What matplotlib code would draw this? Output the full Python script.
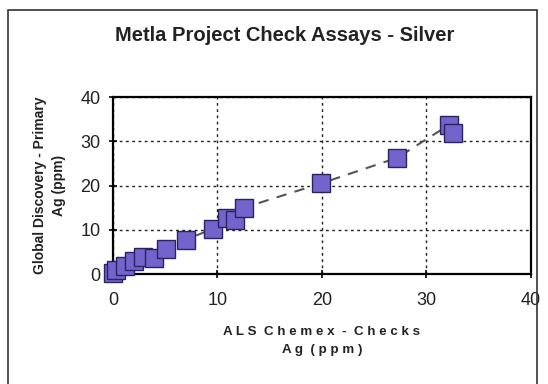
# Metla check assays - silver, primary vs check lab

import matplotlib.pyplot as plt
from matplotlib.patches import Rectangle

plt.rcParams['font.family'] = ['Liberation Sans', 'DejaVu Sans']

# check assays (ALS Chemex) vs primary assays (Global Discovery), Ag ppm
als_checks = [0.0, 0.3, 1.2, 2.0, 2.9, 3.9, 5.1, 7.0, 9.6, 10.9, 11.7, 12.5, 19.9, 27.2, 32.2, 32.5]
global_primary = [0.2, 1.0, 1.8, 3.0, 3.8, 3.6, 5.7, 7.8, 10.3, 12.8, 12.3, 15.0, 20.5, 26.3, 33.8, 32.0]
ticks = [0, 10, 20, 30, 40]

fig = plt.figure(figsize=(5.48, 3.84), dpi=100)
ax = fig.add_axes([0.206, 0.286, 0.763, 0.461])

# dashed line joining the points, then the square markers on top
ax.plot(als_checks, global_primary, ls=(0, (5, 4)), color='#555555', lw=1.5, zorder=2)
ax.plot(als_checks, global_primary, ls='none', marker='s', markersize=12.5,
        markerfacecolor='#7264cc', markeredgecolor='#2a2360', markeredgewidth=1.0,
        clip_on=False, zorder=3)

ax.set_xlim(0, 40)
ax.set_ylim(0, 40)
ax.set_xticks(ticks)
ax.set_yticks(ticks)
ax.grid(True, ls=(0, (2, 2.5)), color='#222222', lw=1.0)
ax.set_axisbelow(True)
for s in ax.spines.values():
    s.set_linewidth(1.6)
ax.tick_params(direction='inout', length=6, width=1.2, labelsize=13, pad=6,
               labelcolor='#222222')
ax.tick_params(axis='x', pad=10)

ax.set_xlabel('A L S  C h e m e x  -  C h e c k s\nA g  ( p p m )', fontsize=9.6,
              fontweight='bold', labelpad=12, color='#222222', linespacing=1.65)
ax.set_ylabel('Global Discovery - Primary\nAg (ppm)', fontsize=10,
              fontweight='bold', labelpad=10, color='#222222', linespacing=1.45)

fig.text(0.52, 0.908, 'Metla Project Check Assays - Silver', ha='center', va='center',
         fontsize=14.5, fontweight='bold', color='#222222')

# outer chart frame
fig.patches.append(Rectangle((8 / 548, -0.02), 529 / 548, 1.02 - 10 / 384,
                             transform=fig.transFigure, fill=False,
                             edgecolor='#333333', lw=1.2))

fig.savefig('out.png', dpi=100)
